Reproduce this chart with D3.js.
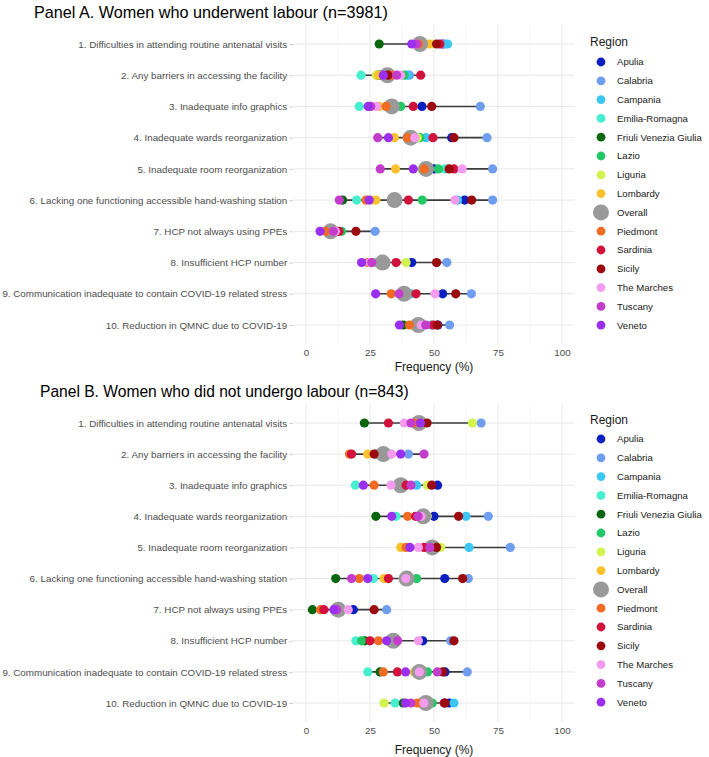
<!DOCTYPE html>
<html><head><meta charset="utf-8">
<script src="https://cdn.jsdelivr.net/npm/d3@7"></script>
<style>body{margin:0;background:#fff;} svg{display:block;font-family:"Liberation Sans",Arial,sans-serif;}</style>
</head><body><svg id="c" width="709" height="757"></svg>
<script>
const items = [
  "1. Difficulties in attending routine antenatal visits",
  "2. Any barriers in accessing the facility",
  "3. Inadequate info graphics",
  "4. Inadequate wards reorganization",
  "5. Inadequate room reorganization",
  "6. Lacking one functioning accessible hand-washing station",
  "7. HCP not always using PPEs",
  "8. Insufficient HCP number",
  "9. Communication inadequate to contain COVID-19 related stress",
  "10. Reduction in QMNC due to COVID-19"
];
const regions = ["Apulia","Calabria","Campania","Emilia-Romagna","Friuli Venezia Giulia","Lazio","Liguria","Lombardy","Piedmont","Sardinia","Sicily","The Marches","Tuscany","Veneto"];
const regionColors = ["#0a1fbf","#6f9ef0","#3cc6f2","#48efcf","#0a650f","#22c866","#d2f24e","#fbc12c","#f26b22","#d0123c","#9a0a0e","#f59cf0","#c33ccc","#9b2ff0"];
const legendOrder = ["Apulia","Calabria","Campania","Emilia-Romagna","Friuli Venezia Giulia","Lazio","Liguria","Lombardy","Overall","Piedmont","Sardinia","Sicily","The Marches","Tuscany","Veneto"];
const xTicks = [0,25,50,75,100];

// Panel A: rows = items, columns = regions (order as in `regions`)
const overallA = [44.5,31.8,33.5,40.9,46.9,34.6,9.6,29.9,38.3,43.9];
const regionValuesA = [
  [53.4,54.0,55.3,45.0,28.6,45.0,49.1,48.0,44.0,52.3,51.0,43.0,43.2,41.3],
  [28.9,40.4,39.5,21.5,28.0,38.3,27.5,28.3,33.5,44.8,32.0,37.0,35.4,30.2],
  [45.3,68.1,34.0,20.8,33.0,37.0,32.0,28.6,31.3,41.9,49.1,27.5,25.3,24.3],
  [56.9,70.7,46.9,44.0,42.0,44.5,43.5,34.5,39.6,49.6,57.8,42.5,28.0,32.2],
  [50.0,72.9,48.0,54.3,47.0,51.7,45.2,35.0,46.2,57.8,55.9,61.0,29.0,41.9],
  [62.0,72.9,59.2,19.8,14.3,45.4,26.0,27.3,23.4,40.0,64.7,58.2,13.0,24.7],
  [10.0,27.0,11.0,9.0,12.0,13.9,10.5,8.5,7.7,12.9,19.5,11.5,10.7,5.5],
  [41.3,55.0,30.0,27.0,28.9,30.0,39.1,26.0,24.1,35.2,51.0,25.0,25.7,21.7],
  [53.4,64.6,41.0,39.0,37.5,40.0,39.3,38.0,33.3,43.0,58.5,50.4,36.3,27.2],
  [51.5,56.1,49.0,42.0,38.0,44.2,43.0,41.5,40.4,49.7,51.3,45.0,46.8,36.5]
];
// Panel B
const overallB = [44.1,30.2,37.0,45.8,49.3,39.3,12.6,34.1,44.3,46.8];
const regionValuesB = [
  [45.0,68.4,43.0,42.0,22.8,43.5,65.0,44.0,42.5,32.2,47.3,38.4,41.0,44.7],
  [27.5,40.0,33.0,29.0,31.5,30.0,28.0,24.1,17.0,17.8,26.6,33.5,46.1,37.0],
  [51.4,38.0,43.2,19.3,36.0,38.0,47.5,35.4,26.6,39.1,49.1,33.2,41.0,22.4],
  [50.0,71.2,62.5,35.2,27.3,45.0,47.4,44.0,39.7,42.8,59.6,45.0,43.8,33.5],
  [48.0,79.8,63.7,47.0,48.0,50.0,52.6,37.0,39.1,46.1,51.0,43.9,48.4,40.6],
  [54.2,63.4,40.0,26.3,11.6,43.2,38.0,30.5,20.8,32.2,61.2,39.0,17.8,24.1],
  [18.5,31.5,13.9,12.0,2.5,12.0,13.0,11.0,5.7,7.0,26.6,16.5,12.0,10.9],
  [45.6,56.5,33.0,19.5,23.0,21.7,33.0,32.0,28.3,25.0,57.8,43.9,35.8,31.5],
  [54.3,63.0,45.0,24.1,28.9,47.5,45.0,42.3,30.2,35.7,53.4,44.3,51.3,38.9],
  [55.9,54.0,57.8,34.8,38.0,49.3,30.5,45.0,43.5,54.0,54.3,46.0,41.0,38.9]
];
const titles = ["Panel A. Women who underwent labour (n=3981)","Panel B. Women who did not undergo labour (n=843)"];

const svg = d3.select("#c");
const color = d3.scaleOrdinal().domain(regions).range(regionColors);
const x = d3.scaleLinear().domain([-5,105]).range([293.2,574.8]);
const FONT = "Liberation Sans, Arial, sans-serif";

function drawPanel(title, overall, values, cfg){
  const g = svg.append("g");
  const y = d3.scalePoint().domain(items).range([cfg.rowTop, cfg.rowBottom]);
  const step = y.step();
  const top = cfg.rowTop - 0.6*step, bottom = cfg.rowBottom + 0.6*step;
  g.append("text").attr("x",cfg.titleX).attr("y",cfg.titleY).attr("font-size",cfg.titleSize).attr("fill","#000").text(title);
  const minor = [12.5,37.5,62.5,87.5];
  g.selectAll(".gm").data(minor).join("line").attr("x1",d=>x(d)).attr("x2",d=>x(d)).attr("y1",top).attr("y2",bottom).attr("stroke","#f2f2f2").attr("stroke-width",0.6);
  g.selectAll(".gx").data(xTicks).join("line").attr("x1",d=>x(d)).attr("x2",d=>x(d)).attr("y1",top).attr("y2",bottom).attr("stroke","#e8e8e8").attr("stroke-width",1);
  g.selectAll(".gy").data(items).join("line").attr("x1",x.range()[0]).attr("x2",x.range()[1]).attr("y1",d=>y(d)).attr("y2",d=>y(d)).attr("stroke","#e8e8e8").attr("stroke-width",1);
  const ya = g.append("g").attr("transform",`translate(${x.range()[0]},0)`).call(d3.axisLeft(y).tickSize(4).tickPadding(2));
  ya.select(".domain").remove();
  ya.selectAll(".tick line").attr("stroke","#d0d0d0");
  ya.selectAll("text").attr("font-size",9.8).attr("fill","#4d4d4d").attr("font-family",FONT);
  const xa = g.append("g").attr("transform",`translate(0,${bottom})`).call(d3.axisBottom(x).tickValues(xTicks).tickSize(0).tickPadding(5));
  xa.select(".domain").remove();
  xa.selectAll("text").attr("font-size",9.8).attr("fill","#4d4d4d").attr("font-family",FONT);
  g.append("text").attr("x",x(50)).attr("y",cfg.xTitleY).attr("text-anchor","middle").attr("font-size",12).attr("fill","#1a1a1a").text("Frequency (%)");
  items.forEach((it,i)=>{
    const all = values[i].concat([overall[i]]);
    g.append("line").attr("x1",x(d3.min(all))).attr("x2",x(d3.max(all))).attr("y1",y(it)).attr("y2",y(it)).attr("stroke","#3a3a3a").attr("stroke-width",1.6);
  });
  items.forEach((it,i)=>{
    legendOrder.forEach(r=>{
      if(r==="Overall"){
        g.append("circle").attr("cx",x(overall[i])).attr("cy",y(it)).attr("r",8).attr("fill","#999999");
      } else {
        const j = regions.indexOf(r);
        g.append("circle").attr("cx",x(values[i][j])).attr("cy",y(it)).attr("r",4.6).attr("fill",color(r));
      }
    });
  });
  const lg = g.append("g");
  lg.append("text").attr("x",590).attr("y",cfg.legTitleY).attr("font-size",12).attr("fill","#1a1a1a").text("Region");
  legendOrder.forEach((r,k)=>{
    const yy = cfg.legTop + k*18.8;
    lg.append("circle").attr("cx",601).attr("cy",yy).attr("r",r==="Overall"?8:4.4).attr("fill",r==="Overall"?"#999999":color(r));
    lg.append("text").attr("x",617).attr("y",yy).attr("dy","0.35em").attr("font-size",9.6).attr("fill","#1a1a1a").text(r);
  });
}

drawPanel(titles[0], overallA, regionValuesA, {titleX:34, titleY:18, titleSize:16.2, rowTop:44, rowBottom:325, xTitleY:371, legTitleY:46, legTop:62});
drawPanel(titles[1], overallB, regionValuesB, {titleX:40, titleY:397, titleSize:15.6, rowTop:423, rowBottom:703, xTitleY:754, legTitleY:424, legTop:439});
</script></body></html>
